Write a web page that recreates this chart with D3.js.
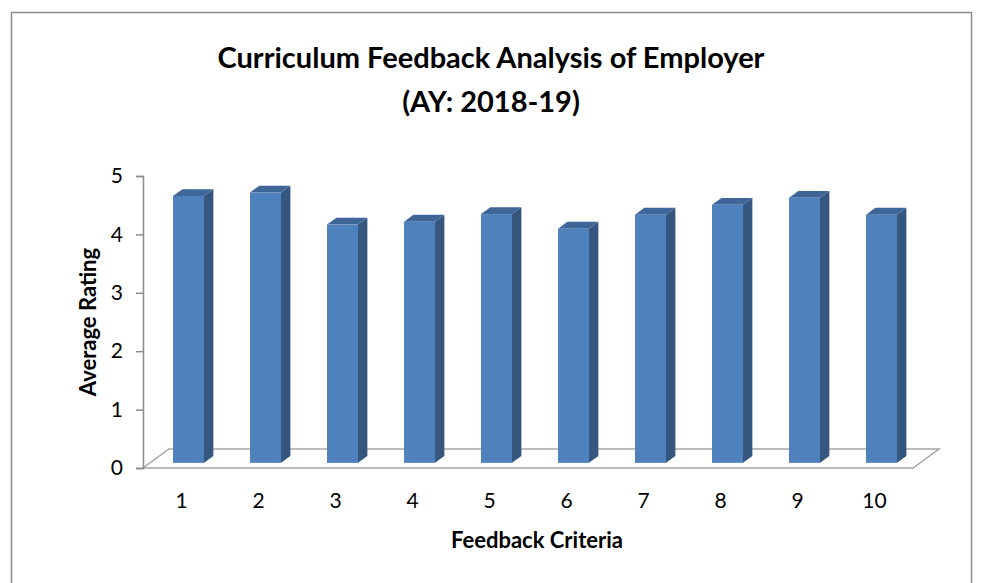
<!DOCTYPE html>
<html>
<head>
<meta charset="utf-8">
<script src="https://cdn.jsdelivr.net/npm/d3@7"></script>
<style>
  body { margin: 0; background: #fff; }
  svg { display: block; font-family: Lato, "Open Sans", sans-serif; }
</style>
</head>
<body>
<div id="chart"></div>
<script>
// data
const criteria = ["1", "2", "3", "4", "5", "6", "7", "8", "9", "10"];
const ratings = [4.57, 4.63, 4.08, 4.13, 4.26, 4.01, 4.25, 4.42, 4.54, 4.25];
const yTicks = [0, 1, 2, 3, 4, 5];

// --------------------------------------
//  Canvas
// --------------------------------------
const width = 982;
const height = 583;
const plot = {left: 143, right: 913, top: 176, bottom: 468};
const depth = {dx: 26, dy: -19};     // oblique floor depth
const barZ = [0.27, 0.63];           // bar front / back depth fraction

const svg = d3.select("#chart")
  .append("svg")
    .attr("width", width)
    .attr("height", height);

svg.append("rect")
  .attr("x", 11.5).attr("y", 12.5)
  .attr("width", 960).attr("height", 600)
  .attr("fill", "none")
  .attr("stroke", "#8c8c8c")
  .attr("stroke-width", 1.5);

// --------------------------------------
//  Scales
// --------------------------------------
const x = d3.scaleBand()
  .domain(criteria)
  .range([plot.left, plot.right]);

const y = d3.scaleLinear()
  .domain([0, 5])
  .range([plot.bottom, plot.top]);

// project a point at depth z (0 = front, 1 = back)
const px = (xx, z) => xx + z * depth.dx;
const py = (yy, z) => yy + z * depth.dy;

// --------------------------------------
//  Floor
// --------------------------------------
const floor = [
  [plot.left, y(0)], [plot.right, y(0)],
  [px(plot.right, 1), py(y(0), 1)], [px(plot.left, 1), py(y(0), 1)]
];
svg.append("polygon")
  .attr("points", floor.map(p => p.join(",")).join(" "))
  .attr("fill", "none")
  .attr("stroke", "#a6a6a6")
  .attr("stroke-width", 1.5);

// --------------------------------------
//  Y axis
// --------------------------------------
const yAxis = svg.append("g")
  .attr("transform", `translate(${plot.left},0)`)
  .call(d3.axisLeft(y).tickValues(yTicks).tickFormat(d3.format("d")).tickSize(7).tickPadding(13));
yAxis.select(".domain").attr("stroke", "#8c8c8c").attr("stroke-width", 1.5);
yAxis.selectAll(".tick line").attr("stroke", "#8c8c8c").attr("stroke-width", 1.5);
yAxis.selectAll(".tick text")
  .attr("font-size", 21)
  .attr("font-family", "Lato, sans-serif")
  .attr("fill", "#000");

// --------------------------------------
//  Bars (3D columns)
// --------------------------------------
const barW = 31;
const bars = svg.append("g");
const data = criteria.map((c, i) => ({c, v: ratings[i]}));

data.forEach(d => {
  const cx = x(d.c) + x.bandwidth() / 2;
  const x0 = px(cx - barW / 2, barZ[0]);
  const x1 = x0 + barW;
  const yb = py(y(0), barZ[0]);
  const yt = py(y(d.v), barZ[0]);
  const ddx = (barZ[1] - barZ[0]) * depth.dx;
  const ddy = (barZ[1] - barZ[0]) * depth.dy;

  // side
  bars.append("polygon")
    .attr("points", [[x1, yb], [x1 + ddx, yb + ddy], [x1 + ddx, yt + ddy], [x1, yt]].map(p => p.join(",")).join(" "))
    .attr("fill", "#34567f");
  // top
  bars.append("polygon")
    .attr("points", [[x0, yt], [x1, yt], [x1 + ddx, yt + ddy], [x0 + ddx, yt + ddy]].map(p => p.join(",")).join(" "))
    .attr("fill", "#3e6699");
  // front
  bars.append("rect")
    .attr("x", x0).attr("y", yt)
    .attr("width", barW).attr("height", yb - yt)
    .attr("fill", "#4f81bd");
});

// --------------------------------------
//  X labels
// --------------------------------------
svg.append("g")
  .selectAll("text")
  .data(criteria)
  .join("text")
    .attr("x", d => x(d) + x.bandwidth() / 2)
    .attr("y", 508)
    .attr("text-anchor", "middle")
    .attr("font-size", 21)
    .text(d => d);

// --------------------------------------
//  Titles
// --------------------------------------
svg.append("text")
  .attr("x", 491).attr("y", 68)
  .attr("text-anchor", "middle")
  .attr("font-size", 29)
  .attr("font-weight", "bold")
  .text("Curriculum Feedback Analysis of Employer");

svg.append("text")
  .attr("x", 491).attr("y", 112)
  .attr("text-anchor", "middle")
  .attr("font-size", 29)
  .attr("font-weight", "bold")
  .text("(AY: 2018-19)");

svg.append("text")
  .attr("transform", `translate(96, ${(plot.top + plot.bottom) / 2}) rotate(-90)`)
  .attr("text-anchor", "middle")
  .attr("font-size", 22)
  .attr("font-weight", "bold")
  .text("Average Rating");

svg.append("text")
  .attr("x", 537).attr("y", 548)
  .attr("text-anchor", "middle")
  .attr("font-size", 22)
  .attr("font-weight", "bold")
  .text("Feedback Criteria");
</script>
</body>
</html>
